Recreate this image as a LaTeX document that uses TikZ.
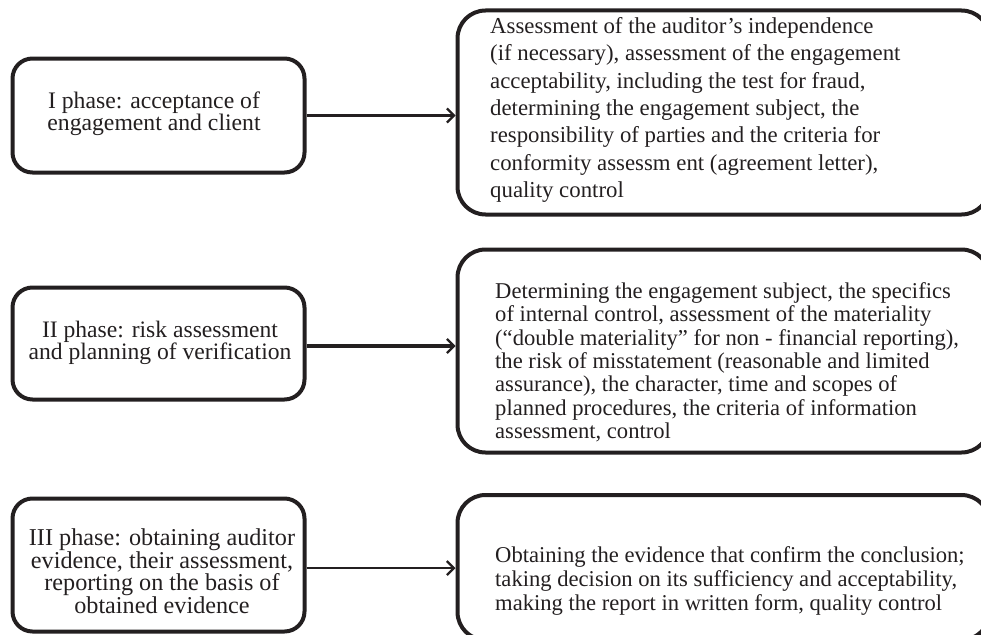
\documentclass[tikz,border=0pt]{standalone}
\usepackage{fontspec}
\setmainfont{Liberation Serif}
\usetikzlibrary{arrows.meta}
\definecolor{ink}{RGB}{35,31,32}
\tikzset{
  lbox/.style={draw=ink, line width=4pt, rounded corners=20pt, inner sep=0pt},
  rbox/.style={draw=ink, line width=4pt, rounded corners=28pt, inner sep=0pt},
  ltext/.style={inner sep=0pt, align=center, text=ink, anchor=north},
  rtext/.style={inner sep=0pt, align=left, text=ink, anchor=north west},
  conn/.style={draw=ink, line width=2.3pt, -{Straight Barb[length=7pt,width=14pt,line width=2.3pt]}}
}
\begin{document}
\begin{tikzpicture}[x=1pt,y=-1pt]
\useasboundingbox (0,0) rectangle (981,634);
% left boxes
\node (lb1) [lbox, minimum width=292pt, minimum height=114pt] at (158.5,115.5) {};
\node (lb2) [lbox, minimum width=292pt, minimum height=112pt] at (158.5,343.5) {};
\node (lb3) [lbox, minimum width=292pt, minimum height=133pt] at (158.5,565) {};
% right boxes
\node (rb1) [rbox, minimum width=532pt, minimum height=204pt] at (723.5,112.5) {};
\node (rb2) [rbox, minimum width=532pt, minimum height=203pt] at (723.5,351) {};
\node (rb3) [rbox, minimum width=532pt, minimum height=145pt] at (723.5,567.5) {};
% texts
\node (lt1) [ltext, font=\fontsize{23.7}{22}\selectfont] at (154,91.5) {I phase: acceptance of\\engagement and client};
\node (lt2) [ltext, font=\fontsize{23.6}{21}\selectfont] at (160,320.5) {II phase: risk assessment\\and planning of verification};
\node (lt3) [ltext, font=\fontsize{24.2}{20}\selectfont] at (162,528.5) {III phase: obtaining auditor\\evidence, their assessment,\\reporting on the basis of\\obtained evidence};
\node (rt1) [rtext, font=\fontsize{22.8}{27.3}\selectfont] at (490,17.3) {Assessment of the auditor’s independence\\(if necessary), assessment of the engagement\\acceptability, including the test for fraud,\\determining the engagement subject, the\\responsibility of parties and the criteria for\\conformity assessm ent (agreement letter),\\quality control};
\node (rt2) [rtext, font=\fontsize{22.6}{23.3}\selectfont] at (495,282.5) {Determining the engagement subject, the specifics\\of internal control, assessment of the materiality\\(“double materiality” for non - financial reporting),\\the risk of misstatement (reasonable and limited\\assurance), the character, time and scopes of\\planned procedures, the criteria of information\\assessment, control};
\node (rt3) [rtext, font=\fontsize{22.6}{24}\selectfont] at (495,546.5) {Obtaining the evidence that confirm the conclusion;\\taking decision on its sufficiency and acceptability,\\making the report in written form, quality control};
% connectors
\draw[conn] (lb1.east) -- (lb1.east -| rb1.west);
\draw[conn, line width=3.8pt] ([yshift=-2.5pt]lb2.east) -- ([yshift=-2.5pt]lb2.east -| rb2.west);
\draw[conn] ([yshift=-3pt]lb3.east) -- ([yshift=-3pt]lb3.east -| rb3.west);
\end{tikzpicture}
\end{document}
